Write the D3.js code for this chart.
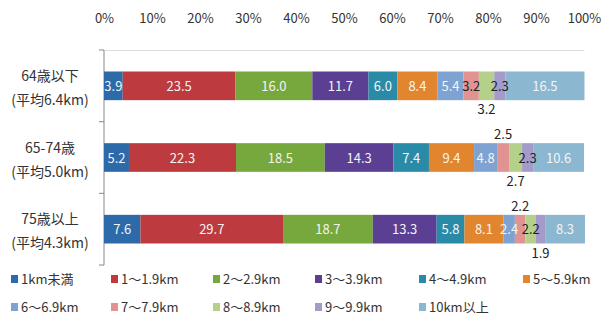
<!DOCTYPE html>
<html><head><meta charset="utf-8">
<script src="https://cdn.jsdelivr.net/npm/d3@7"></script>
<style>
body{margin:0;background:#fff;}
text{font-family:"Noto Sans CJK JP","Noto Sans",sans-serif;}
</style></head>
<body><svg id="c" width="602" height="318"></svg>
<script>
const categories = ["64歳以下","65-74歳","75歳以上"];
const averages = ["(平均6.4km)","(平均5.0km)","(平均4.3km)"];
const seriesNames = ["1km未満","1～1.9km","2～2.9km","3～3.9km","4～4.9km","5～5.9km","6～6.9km","7～7.9km","8～8.9km","9～9.9km","10km以上"];
const values64 = [3.9,23.5,16.0,11.7,6.0,8.4,5.4,3.2,3.2,2.3,16.5];
const values65 = [5.2,22.3,18.5,14.3,7.4,9.4,4.8,2.5,2.7,2.3,10.6];
const values75 = [7.6,29.7,18.7,13.3,5.8,8.1,2.4,2.2,2.2,1.9,8.3];
const tickValues = [0,10,20,30,40,50,60,70,80,90,100];

const colors = ["#2d6aa9","#bd3b3f","#77a83e","#5a3f93","#2a8ba9","#e2852f","#7ea3d2","#e09391","#b5d08a","#a59bca","#8bb8d0"];
const darkLabel = [false,false,false,false,false,false,false,true,true,true,false];
// label placement per row: 0 inside, -1 above, 1 below
const placement = [
  [0,0,0,0,0,0,0,0,1,0,0],
  [0,0,0,0,0,0,0,-1,1,0,0],
  [0,0,0,0,0,0,0,-1,0,1,0]
];
const rows = [values64, values65, values75];

const svg = d3.select("#c");
const x = d3.scaleLinear().domain([0,100]).range([104,584]);
const y = d3.scaleBand().domain(categories).range([50,265]).paddingInner(0.6).paddingOuter(0.3);
const yb = d3.scaleBand().domain(categories).range([50,265]);

// top axis labels
const xa = svg.append("g").attr("transform","translate(0,50)")
  .call(d3.axisTop(x).tickValues(tickValues).tickFormat(d=>d+"%").tickSize(0).tickPadding(27));
xa.select(".domain").attr("stroke","#ddd");
xa.selectAll("text").attr("font-size",13).attr("fill","#333");

// left axis
const ya = svg.append("g").attr("transform","translate(104,0)");
ya.append("line").attr("x1",0).attr("x2",0).attr("y1",50).attr("y2",265).attr("stroke","#888");
ya.selectAll("line.t").data([50,...categories.map(c=>yb(c)+yb.bandwidth())]).enter()
  .append("line").attr("class","t").attr("x1",-5).attr("x2",0).attr("y1",d=>d).attr("y2",d=>d).attr("stroke","#888");

// category labels
categories.forEach((c,i)=>{
  const cy = yb(c)+yb.bandwidth()/2;
  const t = svg.append("text").attr("x",50).attr("text-anchor","middle").attr("font-size",14).attr("fill","#333");
  t.append("tspan").attr("x",50).attr("y",cy-5).text(c);
  t.append("tspan").attr("x",50).attr("y",cy+19).text(averages[i]);
});

// bars
rows.forEach((vals,ri)=>{
  let acc = 0;
  const cat = categories[ri];
  const g = svg.append("g");
  vals.forEach((v,si)=>{
    const x0 = acc, x1 = acc+v; acc = x1;
    g.append("rect").attr("x",x(x0)).attr("y",y(cat)).attr("width",x(x1)-x(x0)).attr("height",y.bandwidth())
      .attr("fill",colors[si]);
  });
  acc = 0;
  vals.forEach((v,si)=>{
    const xm = x(acc+v/2); acc += v;
    const p = placement[ri][si];
    let ty = y(cat)+y.bandwidth()/2+5;
    if(p===-1) ty = y(cat)-4;
    if(p===1) ty = y(cat)+y.bandwidth()+14;
    g.append("text").attr("x",xm).attr("y",ty).attr("text-anchor","middle").attr("font-size",13)
      .attr("fill", (p!==0||darkLabel[si]) ? "#222" : "#f4f4f4").text(v.toFixed(1));
  });
});

// legend
const legX = [11,111,213,315,419,523];
const legY = [280,308];
seriesNames.forEach((n,i)=>{
  const lx = legX[i%6], ly = legY[Math.floor(i/6)];
  svg.append("rect").attr("x",lx).attr("y",ly-5).attr("width",7).attr("height",8).attr("fill",colors[i]);
  svg.append("text").attr("x",lx+10).attr("y",ly+4).attr("font-size",13).attr("fill","#333").text(n);
});
</script></body></html>
